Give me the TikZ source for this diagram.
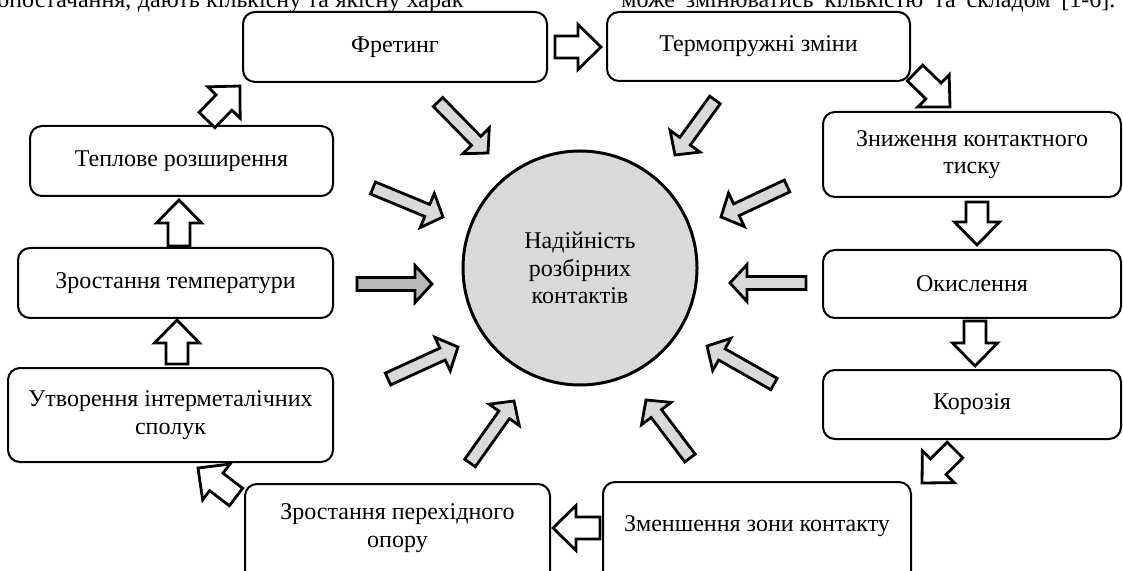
\documentclass[tikz,border=0pt]{standalone}
\usepackage{fontspec}
\setmainfont{Liberation Serif}
\usetikzlibrary{calc}

\tikzset{
  box/.style={draw, line width=1pt, rounded corners=6pt, align=center, inner sep=2pt},
  hub/.style={circle, draw, line width=1.5pt, fill=black!15, align=center, minimum size=117pt, inner sep=0pt},
  flowarr/.style={draw, line width=1.4pt, fill=white},
  inarr/.style={draw, line width=1.4pt, fill=black!15},
}

% open block arrow of the cycle: tail -> tip
\newcommand{\flowarrow}[2]{%
  \draw[flowarr] let \p1=($(#2)-(#1)$), \n1={atan2(\y1,\x1)}, \n2={veclen(\x1,\y1)} in
    ($(#1)+({\n1+90}:5.5pt)$) -- ($(#1)+(\n1:{\n2-11.5pt})+({\n1+90}:5.5pt)$)
    -- ($(#1)+(\n1:{\n2-11.5pt})+({\n1+90}:11.25pt)$) -- (#2)
    -- ($(#1)+(\n1:{\n2-11.5pt})+({\n1-90}:11.25pt)$) -- ($(#1)+(\n1:{\n2-11.5pt})+({\n1-90}:5.5pt)$)
    -- ($(#1)+({\n1-90}:5.5pt)$) -- cycle;}

% grey block arrow towards the circle: tail -> tip
\newcommand{\inarrow}[3][]{%
  \draw[inarr,#1] let \p1=($(#3)-(#2)$), \n1={atan2(\y1,\x1)}, \n2={veclen(\x1,\y1)} in
    ($(#2)+({\n1+90}:3.25pt)$) -- ($(#2)+(\n1:{\n2-8.5pt})+({\n1+90}:3.25pt)$)
    -- ($(#2)+(\n1:{\n2-8.5pt})+({\n1+90}:9.25pt)$) -- (#3)
    -- ($(#2)+(\n1:{\n2-8.5pt})+({\n1-90}:9.25pt)$) -- ($(#2)+(\n1:{\n2-8.5pt})+({\n1-90}:3.25pt)$)
    -- ($(#2)+({\n1-90}:3.25pt)$) -- cycle;}

\begin{document}
\begin{tikzpicture}[x=0.5pt, y=-0.5pt, font={\fontsize{12}{13.8}\selectfont}]
\useasboundingbox (0,0) rectangle (1123,571);

% Text of the page above the figure (cut off)
\node[anchor=base west, inner sep=0pt] (textleft) at (-3,8) {\makebox[233pt][s]{опостачання, дають кількісну та якісну харак}};
\node[anchor=base west, inner sep=0pt] (textright) at (621,8) {\makebox[247pt][s]{може змінюватись кількістю та складом [1-6].}};

% Centre
\node[hub] (hub) at (580,268) {Надійність\\розбірних\\контактів};

% Boxes of the cycle (placed manually)
\node[box, minimum width=152pt, minimum height=35pt] (fret) at (395,47) {Фретинг};
\node[box, minimum width=151.5pt, minimum height=34.5pt] (termo) at (758.5,46.5) {Термопружні зміни};
\node[box, minimum width=149pt, minimum height=42.5pt] (press) at (972,154.5) {Зниження контактного\\тиску};
\node[box, minimum width=149pt, minimum height=34pt] (oxid) at (972,284) {Окислення};
\node[box, minimum width=149pt, minimum height=34.5pt] (corr) at (972,404.5) {Корозія};
% the two lower boxes run past the bottom edge
\node[box, anchor=north, minimum width=154pt, minimum height=64.5pt, text height=9pt, text depth=24.5pt] (zone) at (757,481) {Зменшення зони контакту};
\node[box, anchor=north, minimum width=152.5pt, minimum height=63.5pt, text height=23pt, text depth=23pt] (resist) at (397.5,483) {Зростання перехідного\\опору};
\node[box, minimum width=162.5pt, minimum height=47pt] (intermet) at (170.5,415) {Утворення інтерметалічних\\сполук};
\node[box, minimum width=157.5pt, minimum height=35pt] (temp) at (175.5,283) {Зростання температури};
\node[box, minimum width=151.5pt, minimum height=35pt] (expan) at (181.5,161) {Теплове розширення};

% Ends of the cycle arrows
\coordinate (fret-out) at (555,47);      \coordinate (termo-in) at (601,47);
\coordinate (termo-out) at (915,73);     \coordinate (press-in) at (950,107);
\coordinate (press-out) at (977,202);    \coordinate (oxid-in) at (977,245);
\coordinate (oxid-out) at (975,321);     \coordinate (corr-in) at (975,366);
\coordinate (corr-out) at (955,450);     \coordinate (zone-in) at (922,483);
\coordinate (zone-out) at (600,528);     \coordinate (resist-in) at (553,528);
\coordinate (resist-out) at (236,497);   \coordinate (intermet-in) at (198,468);
\coordinate (intermet-out) at (177,364); \coordinate (temp-in) at (177,320);
\coordinate (temp-out) at (179,246);     \coordinate (expan-in) at (179,200);
\coordinate (expan-out) at (207,120);    \coordinate (fret-in) at (240,86);

% Ends of the arrows to the centre
\coordinate (g1) at (438,102); \coordinate (h1) at (488,153);
\coordinate (g2) at (715,100); \coordinate (h2) at (675,155);
\coordinate (g3) at (787,186); \coordinate (h3) at (721,217);
\coordinate (g4) at (806,283); \coordinate (h4) at (730,283);
\coordinate (g5) at (774,384); \coordinate (h5) at (707,346);
\coordinate (g6) at (690,458); \coordinate (h6) at (646,400);
\coordinate (g7) at (470,463); \coordinate (h7) at (514,401);
\coordinate (g8) at (388,379); \coordinate (h8) at (458,347);
\coordinate (g9) at (357,284); \coordinate (h9) at (432,284);
\coordinate (g10) at (373,188); \coordinate (h10) at (443,217);

% Cycle
\flowarrow{fret-out}{termo-in}
\flowarrow{termo-out}{press-in}
\flowarrow{press-out}{oxid-in}
\flowarrow{oxid-out}{corr-in}
\flowarrow{corr-out}{zone-in}
\flowarrow{zone-out}{resist-in}
\flowarrow{resist-out}{intermet-in}
\flowarrow{intermet-out}{temp-in}
\flowarrow{temp-out}{expan-in}
\flowarrow{expan-out}{fret-in}

% Arrows to the centre
\inarrow{g1}{h1}
\inarrow{g2}{h2}
\inarrow{g3}{h3}
\inarrow{g4}{h4}
\inarrow{g5}{h5}
\inarrow{g6}{h6}
\inarrow{g7}{h7}
\inarrow{g8}{h8}
\inarrow[fill=black!28]{g9}{h9}
\inarrow{g10}{h10}

\end{tikzpicture}
\end{document}
